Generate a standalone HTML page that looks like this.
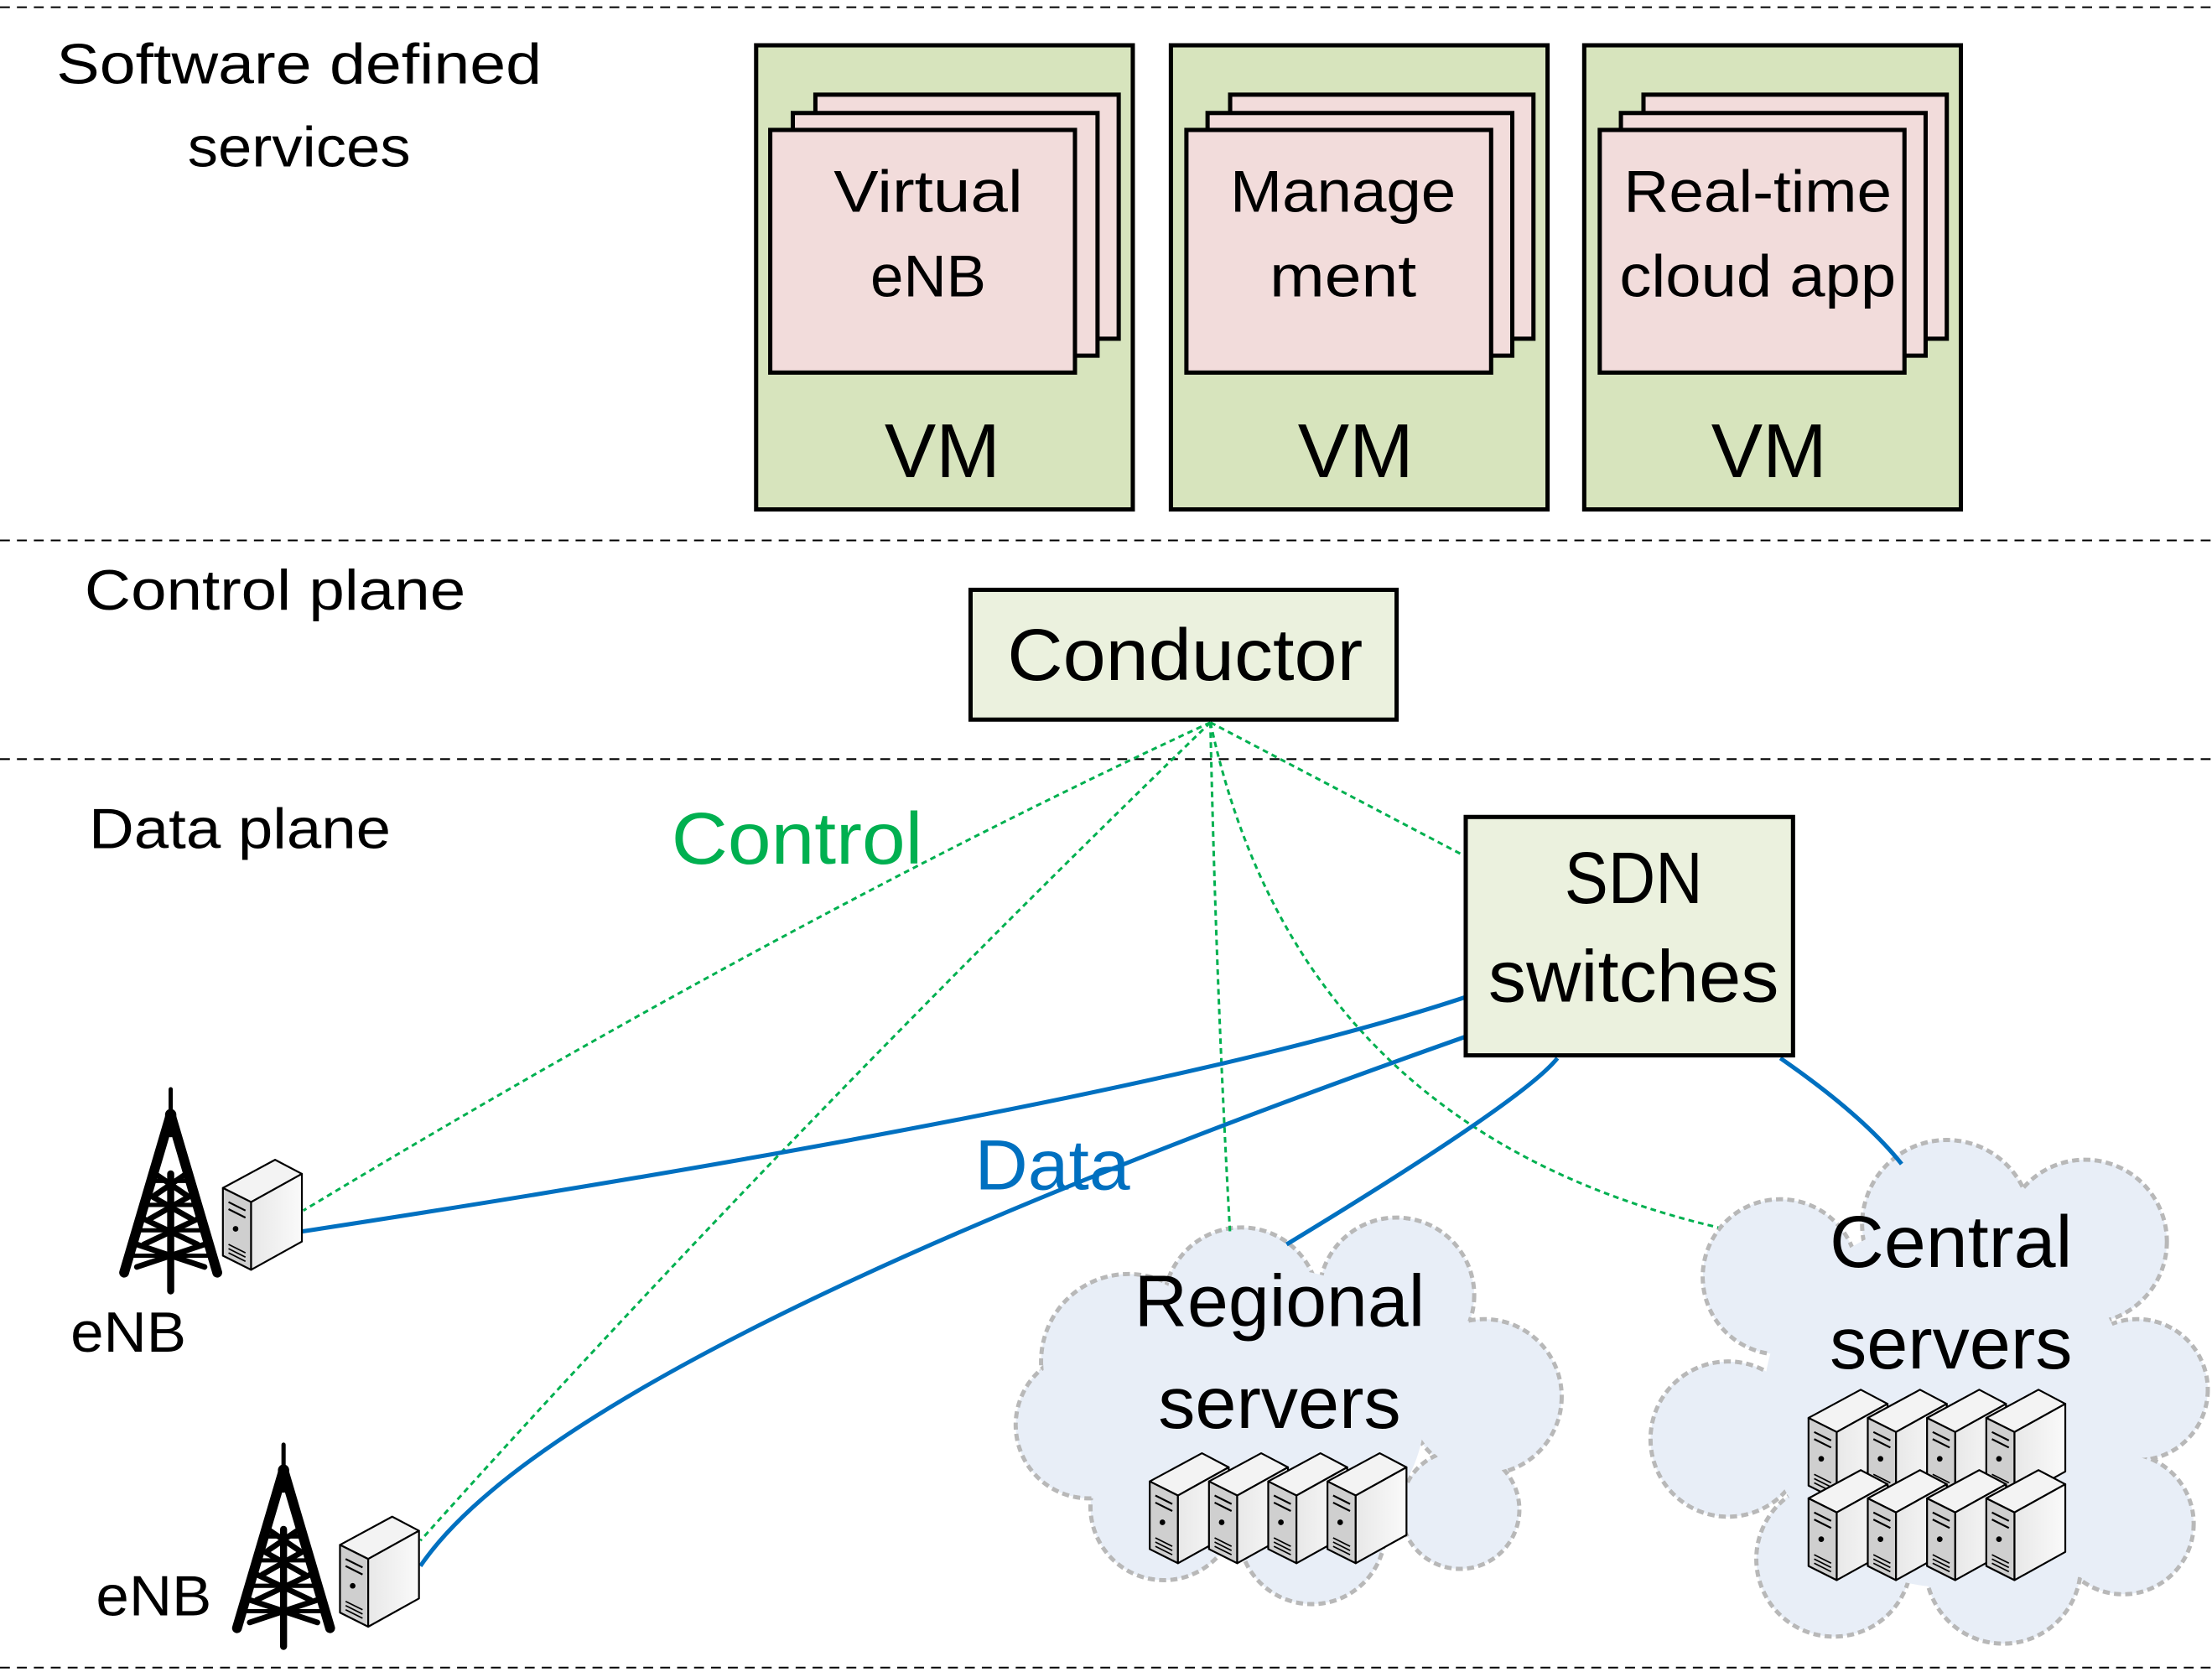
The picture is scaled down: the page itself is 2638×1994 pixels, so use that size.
<!DOCTYPE html>
<html><head><meta charset="utf-8"><style>
html,body{margin:0;padding:0;background:#fff}
svg{display:block}
text{font-family:"Liberation Sans",sans-serif;}
</style></head><body>
<svg width="2638" height="1994" viewBox="0 0 1568 1185" xmlns="http://www.w3.org/2000/svg">
<defs>
<linearGradient id="gs" x1="0" y1="0" x2="1" y2="0"><stop offset="0" stop-color="#e8e8e8"/><stop offset="1" stop-color="#fafafa"/></linearGradient>
<g id="srv">
<polygon points="0,20 37,0 56,10 20,30" fill="#f3f3f3" stroke="#000" stroke-width="1.3" stroke-linejoin="round"/>
<polygon points="0,20 20,30 20,78 0,68" fill="#cfcfcf" stroke="#000" stroke-width="1.3" stroke-linejoin="round"/>
<polygon points="20,30 56,10 56,58 20,78" fill="url(#gs)" stroke="#000" stroke-width="1.3" stroke-linejoin="round"/>
<line x1="4" y1="30" x2="16" y2="36" stroke="#000" stroke-width="1.3"/>
<line x1="4" y1="35" x2="16" y2="41" stroke="#000" stroke-width="1.3"/>
<circle cx="9" cy="49" r="2" fill="#000"/>
<line x1="4" y1="60" x2="16" y2="66" stroke="#000" stroke-width="1"/>
<line x1="4" y1="63" x2="16" y2="69" stroke="#000" stroke-width="1"/>
<line x1="4" y1="66" x2="16" y2="72" stroke="#000" stroke-width="1"/>
</g>
<g id="tower" stroke="#000" stroke-linecap="round" fill="none">
<line x1="36" y1="0" x2="36" y2="20" stroke-width="3"/>
<line x1="36" y1="143" x2="36" y2="60" stroke-width="5"/>
<path d="M36,18 L3,130 M36,18 L69,130" stroke-width="7"/>
<path d="M36,18 L36,30" stroke-width="8"/>
<path d="M25,60 L47,75 M47,60 L25,75 M21,75 L51,92 M51,75 L21,92 M17,92 L55,110 M55,92 L17,110 M12,110 L60,126 M60,110 L12,126" stroke-width="4"/>
<path d="M22,65 L50,65 M18,82 L54,82 M14,100 L58,100 M9,118 L63,118" stroke-width="3"/>
</g>
</defs>

<!-- dashed separators -->
<g stroke="#000" stroke-width="1.2" stroke-dasharray="7,5">
<line x1="0" y1="5" x2="1568" y2="5"/>
<line x1="0" y1="383" x2="1568" y2="383"/>
<line x1="0" y1="538" x2="1568" y2="538"/>
<line x1="0" y1="1182" x2="1568" y2="1182"/>
</g>

<!-- layer labels -->
<text x="212" y="59" font-size="40" text-anchor="middle" textLength="344" lengthAdjust="spacingAndGlyphs">Software defined</text>
<text x="212" y="118" font-size="40" text-anchor="middle" textLength="158" lengthAdjust="spacingAndGlyphs">services</text>
<text x="60" y="432" font-size="40" textLength="270" lengthAdjust="spacingAndGlyphs">Control plane</text>
<text x="63" y="601" font-size="40" textLength="214" lengthAdjust="spacingAndGlyphs">Data plane</text>

<!-- VMs -->
<g stroke="#000" stroke-width="3">
<rect x="536" y="32" width="267" height="329" fill="#d7e4bd"/>
<rect x="830" y="32" width="267" height="329" fill="#d7e4bd"/>
<rect x="1123" y="32" width="267" height="329" fill="#d7e4bd"/>
<g fill="#f2dcdb">
<rect x="578" y="67" width="215" height="173"/><rect x="562" y="80" width="216" height="172"/><rect x="546" y="92" width="216" height="172"/>
<rect x="872" y="67" width="215" height="173"/><rect x="856" y="80" width="216" height="172"/><rect x="841" y="92" width="216" height="172"/>
<rect x="1165" y="67" width="215" height="173"/><rect x="1149" y="80" width="216" height="172"/><rect x="1134" y="92" width="216" height="172"/>
</g>
</g>
<g font-size="42" text-anchor="middle">
<text x="658" y="150" textLength="134" lengthAdjust="spacingAndGlyphs">Virtual</text>
<text x="658" y="210" textLength="82" lengthAdjust="spacingAndGlyphs">eNB</text>
<text x="952" y="150" textLength="160" lengthAdjust="spacingAndGlyphs">Manage</text>
<text x="952" y="210" textLength="104" lengthAdjust="spacingAndGlyphs">ment</text>
<text x="1246" y="150" textLength="190" lengthAdjust="spacingAndGlyphs">Real-time</text>
<text x="1246" y="210" textLength="196" lengthAdjust="spacingAndGlyphs">cloud app</text>
</g>
<g font-size="54" text-anchor="middle">
<text x="668" y="338" textLength="82" lengthAdjust="spacingAndGlyphs">VM</text>
<text x="961" y="338" textLength="82" lengthAdjust="spacingAndGlyphs">VM</text>
<text x="1254" y="338" textLength="82" lengthAdjust="spacingAndGlyphs">VM</text>
</g>

<!-- clouds -->
<g stroke="#b8b8b8" stroke-width="3" stroke-dasharray="5,3" fill="#e8eef7">
<circle cx="800" cy="965" r="62"/><circle cx="880" cy="925" r="55"/><circle cx="990" cy="918" r="55"/><circle cx="1052" cy="990" r="55"/><circle cx="1035" cy="1070" r="42"/><circle cx="930" cy="1085" r="52"/><circle cx="825" cy="1068" r="52"/><circle cx="772" cy="1010" r="52"/>
<circle cx="1262" cy="905" r="55"/><circle cx="1380" cy="868" r="60"/><circle cx="1478" cy="880" r="58"/><circle cx="1515" cy="985" r="50"/><circle cx="1505" cy="1080" r="50"/><circle cx="1420" cy="1110" r="55"/><circle cx="1300" cy="1105" r="55"/><circle cx="1225" cy="1020" r="55"/>
</g>
<g fill="#e8eef7">
<circle cx="800" cy="965" r="60.5"/><circle cx="880" cy="925" r="53.5"/><circle cx="990" cy="918" r="53.5"/><circle cx="1052" cy="990" r="53.5"/><circle cx="1035" cy="1070" r="40.5"/><circle cx="930" cy="1085" r="50.5"/><circle cx="825" cy="1068" r="50.5"/><circle cx="772" cy="1010" r="50.5"/><circle cx="910" cy="1000" r="100"/>
<circle cx="1262" cy="905" r="53.5"/><circle cx="1380" cy="868" r="58.5"/><circle cx="1478" cy="880" r="56.5"/><circle cx="1515" cy="985" r="48.5"/><circle cx="1505" cy="1080" r="48.5"/><circle cx="1420" cy="1110" r="53.5"/><circle cx="1300" cy="1105" r="53.5"/><circle cx="1225" cy="1020" r="53.5"/><circle cx="1380" cy="995" r="130"/>
</g>

<!-- control lines -->
<g stroke="#00b050" stroke-width="1.8" stroke-dasharray="4,3" fill="none">
<path d="M858,512 Q560,650 215,858"/>
<path d="M858,512 Q560,800 298,1092"/>
<path d="M858,512 Q862,700 872,875"/>
<path d="M858,512 L1037,606"/>
<path d="M858,512 Q920,800 1218,870"/>
</g>

<!-- data lines -->
<g stroke="#0070c0" stroke-width="3" fill="none">
<path d="M213,873 Q820,780 1041,706"/>
<path d="M298,1110 Q400,960 1041,734"/>
<path d="M1104,750 Q1080,780 912,882"/>
<path d="M1262,750 Q1320,790 1348,825"/>
</g>

<!-- conductor & SDN -->
<rect x="688" y="418" width="302" height="92" fill="#ebf1de" stroke="#000" stroke-width="3"/>
<text x="840" y="482" font-size="52" text-anchor="middle" textLength="252" lengthAdjust="spacingAndGlyphs">Conductor</text>
<rect x="1039" y="579" width="232" height="169" fill="#ebf1de" stroke="#000" stroke-width="3"/>
<text x="1158" y="640" font-size="52" text-anchor="middle" textLength="98" lengthAdjust="spacingAndGlyphs">SDN</text>
<text x="1158" y="710" font-size="52" text-anchor="middle" textLength="206" lengthAdjust="spacingAndGlyphs">switches</text>

<text x="476" y="612" font-size="52" fill="#00b050" textLength="178" lengthAdjust="spacingAndGlyphs">Control</text>
<text x="691" y="843" font-size="50" fill="#0070c0" textLength="110" lengthAdjust="spacingAndGlyphs">Data</text>

<text x="907" y="940" font-size="52" text-anchor="middle" textLength="206" lengthAdjust="spacingAndGlyphs">Regional</text>
<text x="907" y="1012" font-size="52" text-anchor="middle" textLength="172" lengthAdjust="spacingAndGlyphs">servers</text>
<text x="1383" y="898" font-size="52" text-anchor="middle" textLength="172" lengthAdjust="spacingAndGlyphs">Central</text>
<text x="1383" y="970" font-size="52" text-anchor="middle" textLength="172" lengthAdjust="spacingAndGlyphs">servers</text>

<!-- server groups -->
<use href="#srv" x="815" y="1030"/><use href="#srv" x="857" y="1030"/><use href="#srv" x="899" y="1030"/><use href="#srv" x="941" y="1030"/>
<use href="#srv" x="1282" y="985"/><use href="#srv" x="1324" y="985"/><use href="#srv" x="1366" y="985"/><use href="#srv" x="1408" y="985"/>
<use href="#srv" x="1282" y="1042"/><use href="#srv" x="1324" y="1042"/><use href="#srv" x="1366" y="1042"/><use href="#srv" x="1408" y="1042"/>

<!-- eNBs -->
<use href="#tower" x="85" y="772"/>
<use href="#srv" x="158" y="822"/>
<text x="50" y="958" font-size="40" textLength="82" lengthAdjust="spacingAndGlyphs">eNB</text>
<use href="#tower" x="165" y="1024"/>
<use href="#srv" x="241" y="1075"/>
<text x="68" y="1145" font-size="40" textLength="82" lengthAdjust="spacingAndGlyphs">eNB</text>
</svg>
</body></html>
